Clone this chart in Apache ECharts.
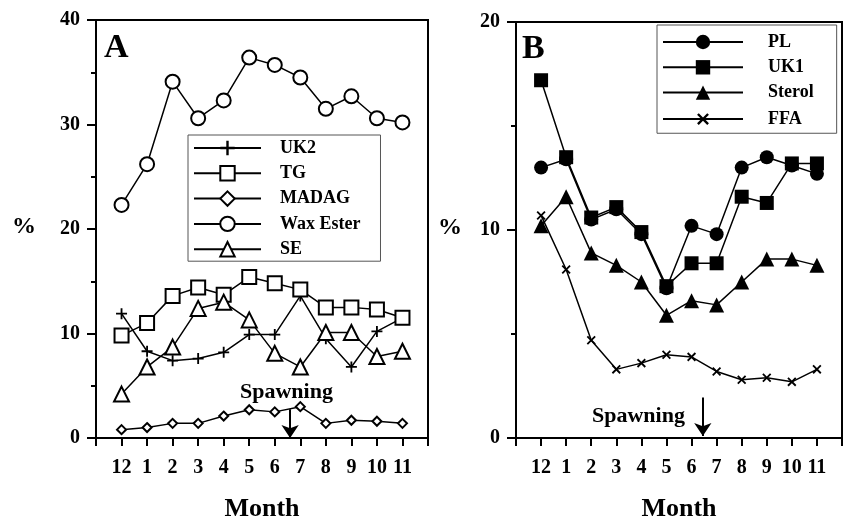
<!DOCTYPE html>
<html>
<head>
<meta charset="utf-8">
<script src="https://cdn.jsdelivr.net/npm/echarts@6/dist/echarts.min.js"></script>
<style>
  html, body { margin: 0; padding: 0; background: #fff; }
  #chart { width: 845px; height: 527px; }
</style>
</head>
<body>
<div id="chart"></div>
<script>
// month labels, Dec .. Nov
var months = ['12', '1', '2', '3', '4', '5', '6', '7', '8', '9', '10', '11'];

// panel A
var uk2 = [11.9, 8.3, 7.4, 7.6, 8.2, 9.9, 9.9, 13.6, 9.5, 6.8, 10.2, 11.5];
var tg = [9.8, 11.0, 13.6, 14.4, 13.7, 15.4, 14.8, 14.2, 12.5, 12.5, 12.3, 11.5];
var madag = [0.8, 1.0, 1.4, 1.4, 2.1, 2.7, 2.5, 3.0, 1.4, 1.7, 1.6, 1.4];
var waxEster = [22.3, 26.2, 34.1, 30.6, 32.3, 36.4, 35.7, 34.5, 31.5, 32.7, 30.6, 30.2];
var se = [4.2, 6.8, 8.7, 12.4, 13.0, 11.3, 8.1, 6.8, 10.1, 10.1, 7.8, 8.3];

// panel B
var pl = [13.0, 13.4, 10.5, 11.0, 9.8, 7.2, 10.2, 9.8, 13.0, 13.5, 13.1, 12.7];
var uk1 = [17.2, 13.5, 10.6, 11.1, 9.9, 7.3, 8.4, 8.4, 11.6, 11.3, 13.2, 13.2];
var sterol = [10.2, 11.6, 8.9, 8.3, 7.5, 5.9, 6.6, 6.4, 7.5, 8.6, 8.6, 8.3];
var ffa = [10.7, 8.1, 4.7, 3.3, 3.6, 4.0, 3.9, 3.2, 2.8, 2.9, 2.7, 3.3];

var FONT = '"Liberation Serif", "Times New Roman", serif';
var plusPath = 'path://M5,0h2v5h5v2h-5v5h-2v-5h-5v-2h5z';

function pts(arr) {
  return arr.map(function (v, i) { return [i + 1, v]; });
}

function xAxisOpt(gridIndex) {
  return {
    type: 'value', gridIndex: gridIndex, min: 0, max: 13, interval: 1,
    name: 'Month', nameLocation: 'middle', nameGap: 58,
    nameTextStyle: { fontFamily: FONT, fontWeight: 'bold', fontSize: 26, color: '#000' },
    axisLine: { lineStyle: { color: '#000', width: 2 } },
    axisTick: { length: 8, lineStyle: { color: '#000', width: 2 } },
    splitLine: { show: false },
    axisLabel: {
      margin: 20, fontFamily: FONT, fontWeight: 'bold', fontSize: 20, color: '#000',
      showMinLabel: true, showMaxLabel: true,
      formatter: function (v) { return (v >= 1 && v <= 12) ? months[v - 1] : ''; }
    }
  };
}

function yAxisOpt(gridIndex, max) {
  return {
    type: 'value', gridIndex: gridIndex, min: 0, max: max, interval: 10,
    axisLine: { lineStyle: { color: '#000', width: 2 } },
    axisTick: { length: 9, lineStyle: { color: '#000', width: 2 } },
    minorTick: { show: true, splitNumber: 2, length: 5, lineStyle: { color: '#000', width: 2 } },
    splitLine: { show: false },
    axisLabel: { margin: 16, fontFamily: FONT, fontWeight: 'bold', fontSize: 20, color: '#000' }
  };
}

function lineSeries(name, data, gi, symbol, size, extra) {
  var s = {
    name: name, type: 'line', xAxisIndex: gi, yAxisIndex: gi,
    data: pts(data), symbol: symbol, symbolSize: size,
    lineStyle: { color: '#000', width: 1.5 },
    itemStyle: { color: '#000', borderWidth: 1.5 },
    emphasis: { disabled: true }, animation: false, z: 3
  };
  for (var k in extra) s[k] = extra[k];
  return s;
}

// spawning arrow: a vertical mark line ending in an arrow head
function spawnArrow(x, y0, y1) {
  return {
    silent: true, symbol: ['none', 'arrow'], symbolSize: 13,
    lineStyle: { color: '#000', width: 2, type: 'solid' }, label: { show: false },
    data: [[{ coord: [x, y0] }, { coord: [x, y1] }]]
  };
}

var legendText = { fontFamily: FONT, fontWeight: 'bold', fontSize: 18, color: '#000' };

var option = {
  backgroundColor: '#fff',
  animation: false,
  grid: [
    { left: 96, top: 20, width: 332, height: 421, show: true, borderColor: '#000', borderWidth: 2 },
    { left: 516, top: 22, width: 326, height: 419, show: true, borderColor: '#000', borderWidth: 2 }
  ],
  xAxis: [xAxisOpt(0), xAxisOpt(1)],
  yAxis: [yAxisOpt(0, 40), yAxisOpt(1, 20)],
  legend: [
    {
      data: ['UK2', 'TG', 'MADAG', 'Wax Ester', 'SE'],
      orient: 'vertical', left: 188, top: 135,
      itemWidth: 67, itemHeight: 18, itemGap: 7.3,
      padding: [4, 20, 3, 5],
      borderColor: '#555', borderWidth: 1, backgroundColor: '#fff',
      textStyle: Object.assign({ padding: [0, 0, 0, 14] }, legendText),
      selectedMode: false
    },
    {
      data: ['PL', 'UK1', 'Sterol', 'FFA'],
      orient: 'vertical', left: 657, top: 25,
      itemWidth: 80, itemHeight: 18, itemGap: 7.3,
      padding: [8, 23, 4, 5],
      borderColor: '#555', borderWidth: 1, backgroundColor: '#fff',
      textStyle: Object.assign({ padding: [0, 0, 0, 20] }, legendText),
      selectedMode: false
    }
  ],
  series: [
    lineSeries('UK2', uk2, 0, plusPath, 11),
    lineSeries('TG', tg, 0, 'emptyRect', 14),
    lineSeries('MADAG', madag, 0, 'emptyDiamond', 9, { markLine: spawnArrow(7.6, 2.75, 0) }),
    lineSeries('Wax Ester', waxEster, 0, 'emptyCircle', 14),
    lineSeries('SE', se, 0, 'emptyTriangle', 15),
    lineSeries('PL', pl, 1, 'circle', 14),
    lineSeries('UK1', uk1, 1, 'rect', 14),
    lineSeries('Sterol', sterol, 1, 'triangle', 15),
    lineSeries('FFA', ffa, 1, plusPath, 11, { symbolRotate: 45, markLine: spawnArrow(7.45, 1.95, 0.1) })
  ],
  graphic: [
    { type: 'text', left: 104, top: 31, style: { text: 'A', font: 'bold 34px ' + FONT, fill: '#000' } },
    { type: 'text', left: 522, top: 32, style: { text: 'B', font: 'bold 34px ' + FONT, fill: '#000' } },
    { type: 'text', left: 12, top: 215, style: { text: '%', font: 'bold 24px ' + FONT, fill: '#000' } },
    { type: 'text', left: 438, top: 216, style: { text: '%', font: 'bold 24px ' + FONT, fill: '#000' } },
    { type: 'text', left: 240, top: 381, style: { text: 'Spawning', font: 'bold 22px ' + FONT, fill: '#000' } },
    { type: 'text', left: 592, top: 405, style: { text: 'Spawning', font: 'bold 22px ' + FONT, fill: '#000' } }
  ]
};

var chart = echarts.init(document.getElementById('chart'), null, { renderer: 'canvas' });
chart.setOption(option);
</script>
</body>
</html>
